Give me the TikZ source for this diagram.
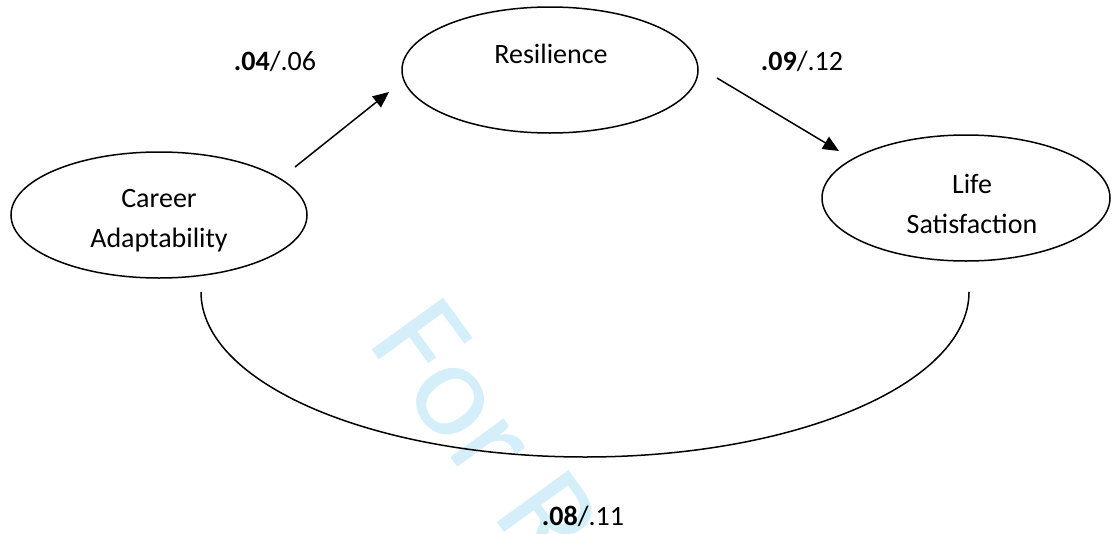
\documentclass[tikz,border=0pt]{standalone}
\usepackage{fontspec}
\setmainfont{Carlito}
\usepackage{tikz}
\usetikzlibrary{shapes.geometric,arrows.meta,positioning}
\definecolor{markcolor}{RGB}{212, 238, 250}

\begin{document}
\begin{tikzpicture}[
    x=1pt, y=-1pt,
    latent/.style={ellipse, draw, line width=1.5pt, minimum width=296pt, minimum height=126pt},
    varname/.style={font=\fontsize{28}{39.5}\selectfont, align=center, anchor=base},
    coef/.style={font=\fontsize{28}{34}\selectfont, anchor=base},
    path/.style={line width=1.5pt, -{Triangle[length=16pt, width=14pt]}}
]
    \useasboundingbox (0,0) rectangle (1114,533);
    \begin{scope}
    \clip (0,0) rectangle (1114,533);
    % Watermark
    \node[font=\fontsize{138}{138}\selectfont, text=markcolor, rotate=-54, anchor=base west, inner sep=0pt] (mark) at (366,342) {For Review Only};
    \end{scope}

    % Latent variables
    \node[latent] (ca) at (159,215) {};
    \node[latent] (res) at (550,70) {};
    \node[latent, minimum width=288pt] (ls) at (966,198) {};

    \node[varname] (catext) at (159,247) {Career\\Adaptability};
    \node[varname] (restext) at (551,63) {Resilience};
    \node[varname] (lstext) at (972,233) {Life\\Satisfaction};

    % Paths
    \coordinate (p1s) at (295,167);
    \coordinate (p1e) at (389,92);
    \coordinate (p2s) at (717,78);
    \coordinate (p2e) at (839,151);
    \draw[path] (p1s) -- (p1e);
    \draw[path] (p2s) -- (p2e);

    % Direct effect
    \coordinate (dl) at (201,292);
    \coordinate (dr) at (969,292);
    \draw[line width=1.5pt] (dl) arc[start angle=180, end angle=0, x radius=384, y radius=165];

    % Coefficients
    \node[coef] (c1) at (275,70) {\textbf{.04}/.06};
    \node[coef] (c2) at (802,70) {\textbf{.09}/.12};
    \node[coef] (c3) at (583,525) {\textbf{.08}/.11};
\end{tikzpicture}
\end{document}
